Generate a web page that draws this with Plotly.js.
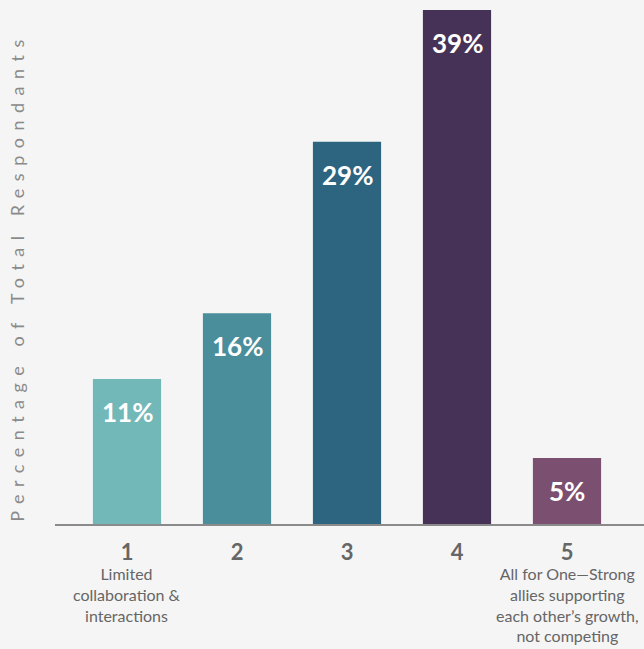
<!DOCTYPE html>
<html>
<head>
<meta charset="utf-8">
<script src="https://cdn.plot.ly/plotly-3.0.1.min.js"></script>
<style>html,body{margin:0;padding:0;background:#f5f5f5;}#chart{width:644px;height:649px;}</style>
</head>
<body>
<div id="chart"></div>
<script>
const categories = [1, 2, 3, 4, 5];
const tickLabels = ["1", "2", "3", "4", "5"];
const values = [11, 16, 29, 39, 5];
const valueLabels = ["11%", "16%", "29%", "39%", "5%"];
const descriptions = [
  "Limited<br>collaboration &<br>interactions",
  "", "", "",
  "All for One\u2014Strong<br>allies supporting<br>each other\u2019s growth,<br>not competing"
];
const colors = ["#72b8b9", "#4a8e9b", "#2d6480", "#473257", "#7b4f70"];

const FONT = "Lato, 'Open Sans', sans-serif";

const annotations = [];
categories.forEach((c, i) => {
  annotations.push({
    x: c, y: values[i], xref: 'x', yref: 'y',
    text: '<b>' + valueLabels[i] + '</b>', showarrow: false,
    yanchor: 'middle', yshift: -33,
    font: {family: FONT, size: 26, color: '#ffffff'}
  });
  if (descriptions[i]) {
    annotations.push({
      x: c, y: 0, xref: 'x', yref: 'y',
      text: descriptions[i], showarrow: false,
      yanchor: 'top', yshift: -38,
      font: {family: FONT, size: 16, color: '#666666'}
    });
  }
});
annotations.push({
  xref: 'paper', yref: 'paper', x: 0, xshift: -51, y: 0.47,
  text: '<span style="letter-spacing:7.5px">Percentage of Total Respondants</span>',
  textangle: -90, showarrow: false,
  font: {family: FONT, size: 18, color: '#8a8a8a'}
});

Plotly.newPlot('chart', [{
  type: 'bar', x: categories, y: values,
  marker: {color: colors},
  hoverinfo: 'none'
}], {
  width: 644, height: 649,
  margin: {l: 55, r: 0, t: 0, b: 125},
  paper_bgcolor: '#f5f5f5', plot_bgcolor: '#f5f5f5',
  bargap: 0.38,
  showlegend: false,
  xaxis: {
    range: [0.3455, 5.7], tickvals: categories, ticktext: tickLabels.map(t => '<b>' + t + '</b>'),
    showgrid: false, zeroline: false, showline: true, linecolor: '#8a8a8a', linewidth: 1.5,
    ticks: '', tickfont: {family: FONT, size: 22, color: '#666666'}, ticklabelstandoff: 8
  },
  yaxis: {
    range: [0, 39.76], showgrid: false, zeroline: false, showline: false,
    showticklabels: false, ticks: ''
  },
  annotations: annotations
}, {staticPlot: true});
</script>
</body>
</html>
